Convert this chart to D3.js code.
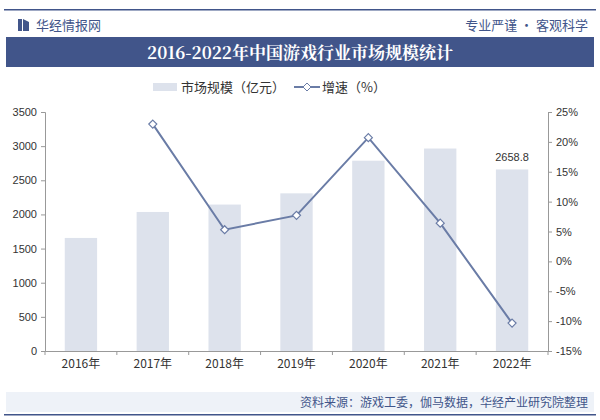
<!DOCTYPE html>
<html><head><meta charset="utf-8">
<script src="https://cdn.jsdelivr.net/npm/d3@7"></script>
<style>body{margin:0;background:#fff}svg{font-family:"Noto Sans CJK SC",sans-serif}</style>
</head><body><svg id="c" width="600" height="420"></svg>
<script>
const years = ["2016年","2017年","2018年","2019年","2020年","2021年","2022年"];
const scale = [1655.7, 2036.1, 2144.4, 2308.8, 2786.9, 2965.1, 2658.8];
const growth = [null, 22.98, 5.3, 7.7, 20.7, 6.4, -10.33];
const leftTicks = [0,500,1000,1500,2000,2500,3000,3500];
const rightTicks = [-15,-10,-5,0,5,10,15,20,25];

const svg = d3.select("#c");
const m = {top:112, right:52, bottom:69, left:45};
const W = 600 - m.left - m.right, H = 420 - m.top - m.bottom;

// header
svg.append("rect").attr("x",4).attr("y",9).attr("width",592).attr("height",1.5).attr("fill","#41558a");
svg.append("rect").attr("x",18).attr("y",19).attr("width",4).attr("height",12).attr("fill","#41558a");
svg.append("path").attr("d","M23,19 L29,22 L29,31 L23,31 Z").attr("fill","#41558a");
svg.append("text").attr("x",36).attr("y",30).attr("font-size",13).attr("fill","#41558a").text("华经情报网");
svg.append("text").attr("x",588).attr("y",30).attr("text-anchor","end").attr("font-size",13).attr("fill","#41558a").text("专业严谨 • 客观科学");
svg.append("rect").attr("x",6).attr("y",37).attr("width",588).attr("height",30).attr("fill","#41558a");
svg.append("text").attr("x",300).attr("y",59).attr("text-anchor","middle").attr("font-size",17).attr("font-weight","bold")
  .attr("font-family","'Noto Serif CJK SC','Noto Sans CJK SC',serif").attr("fill","#fff").text("2016-2022年中国游戏行业市场规模统计");

// legend
svg.append("rect").attr("x",153).attr("y",83).attr("width",24).attr("height",8).attr("fill","#dde2ec");
svg.append("text").attr("x",181).attr("y",92).attr("font-size",13).attr("fill","#333").text("市场规模（亿元）");
svg.append("line").attr("x1",294).attr("x2",320).attr("y1",87).attr("y2",87).attr("stroke","#6a7ca6").attr("stroke-width",2);
svg.append("path").attr("d","M307,83 L311,87 L307,91 L303,87 Z").attr("fill","#fff").attr("stroke","#6a7ca6");
svg.append("text").attr("x",322).attr("y",92).attr("font-size",13).attr("fill","#333").text("增速（%）");

const g = svg.append("g").attr("transform",`translate(${m.left},${m.top})`);
const x = d3.scaleBand().domain(years).range([0,W]).paddingInner(0.55).paddingOuter(0.275);
const xb = d3.scaleBand().domain(years).range([0,W]);
const y = d3.scaleLinear().domain([0,3500]).range([H,0]);
const y2 = d3.scaleLinear().domain([-15,25]).range([H,0]);

g.selectAll(".bar").data(scale).enter().append("rect")
  .attr("x",(d,i)=>x(years[i])).attr("y",d=>y(d)).attr("width",x.bandwidth()).attr("height",d=>H-y(d)).attr("fill","#dde2ec");

const ax = g.append("g").attr("transform",`translate(0,${H})`).call(d3.axisBottom(xb).tickSize(0).tickPadding(8));
ax.select(".domain").attr("stroke","#999");
ax.selectAll(".tick").append("line").attr("x1",-xb.bandwidth()/2).attr("x2",-xb.bandwidth()/2).attr("y2",4).attr("stroke","#999");
ax.append("line").attr("x1",W).attr("x2",W).attr("y2",4).attr("stroke","#999");
const ay = g.append("g").call(d3.axisLeft(y).tickValues(leftTicks).tickFormat(d3.format("d")).tickSize(4).tickPadding(4));
const ay2 = g.append("g").attr("transform",`translate(${W},0)`).call(d3.axisRight(y2).tickValues(rightTicks).tickFormat(d=>d+"%").tickSize(4).tickPadding(4));
[ay,ay2].forEach(a=>{a.selectAll("line,.domain").attr("stroke","#999");});
g.selectAll(".tick text").attr("font-size",11).attr("fill","#333").attr("font-family","'Liberation Sans',Arial,sans-serif");
ax.selectAll(".tick text").attr("font-size",12).attr("font-family","'Noto Sans CJK SC',sans-serif");

const pts = growth.map((d,i)=>({d,i})).filter(p=>p.d!==null);
const cx = i=>xb(years[i])+xb.bandwidth()/2;
g.append("path").datum(pts).attr("fill","none").attr("stroke","#6a7ca6").attr("stroke-width",2)
  .attr("d",d3.line().x(p=>cx(p.i)).y(p=>y2(p.d)));
g.selectAll(".pt").data(pts).enter().append("path")
  .attr("d",p=>{const a=cx(p.i),b=y2(p.d);return `M${a},${b-4}L${a+4},${b}L${a},${b+4}L${a-4},${b}Z`;})
  .attr("fill","#fff").attr("stroke","#6a7ca6").attr("stroke-width",1.2);
g.append("text").attr("x",cx(6)).attr("y",y(scale[6])-8).attr("text-anchor","middle").attr("font-size",11)
  .attr("fill","#333").attr("font-family","'Liberation Sans',Arial,sans-serif").text(scale[6].toFixed(1));

// footer
svg.append("rect").attr("x",6).attr("y",392).attr("width",588).attr("height",20).attr("fill","#eef2f8");
svg.append("text").attr("x",588).attr("y",407).attr("text-anchor","end").attr("font-size",12).attr("fill","#41558a").text("资料来源：游戏工委，伽马数据，华经产业研究院整理");
svg.append("rect").attr("x",4).attr("y",414).attr("width",592).attr("height",1.5).attr("fill","#41558a");
</script></body></html>
